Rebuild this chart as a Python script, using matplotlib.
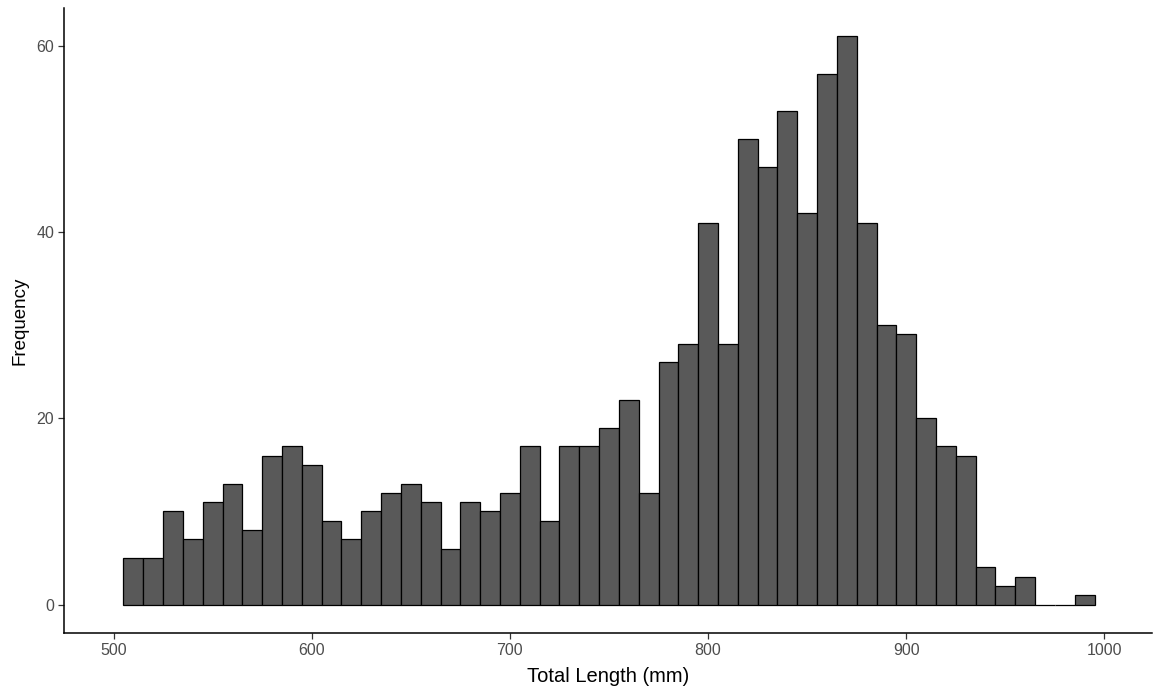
import numpy as np
import matplotlib.pyplot as plt

plt.rcParams['font.family'] = ['Liberation Sans', 'DejaVu Sans']

# histogram of total length, 10 mm bins starting at 505
bin_start = 505
bin_width = 10
counts = [5, 5, 10, 7, 11, 13, 8, 16, 17, 15,
          9, 7, 10, 12, 13, 11, 6, 11, 10, 12,
          17, 9, 17, 17, 19, 22, 12, 26, 28, 41,
          28, 50, 47, 53, 42, 57, 61, 41, 30, 29,
          20, 17, 16, 4, 2, 3, 0, 0, 1]
x_ticks = [500, 600, 700, 800, 900, 1000]
y_ticks = [0, 20, 40, 60]

lefts = bin_start + bin_width * np.arange(len(counts))

fig = plt.figure(figsize=(11.55, 6.93), dpi=100)
ax = fig.add_axes([64 / 1155, 60 / 693, 1088 / 1155, 625 / 693])

ax.bar(lefts, counts, width=bin_width, align='edge',
       color='#595959', edgecolor='black', linewidth=0.9)

ax.set_xlim(475, 1024)
ax.set_ylim(-3.05, 64.05)
ax.set_xticks(x_ticks)
ax.set_yticks(y_ticks)

for s in ['top', 'right']:
    ax.spines[s].set_visible(False)
for s in ['left', 'bottom']:
    ax.spines[s].set_linewidth(1.1)
    ax.spines[s].set_color('black')

ax.tick_params(length=4, width=0.9, color='#333333', labelcolor='#4D4D4D',
               labelsize=11.5, pad=3)
ax.set_xlabel('Total Length (mm)', fontsize=14.5, color='black', labelpad=7)
ax.set_ylabel('Frequency', fontsize=13.5, color='black', labelpad=6)

fig.savefig('out.png', dpi=100)
